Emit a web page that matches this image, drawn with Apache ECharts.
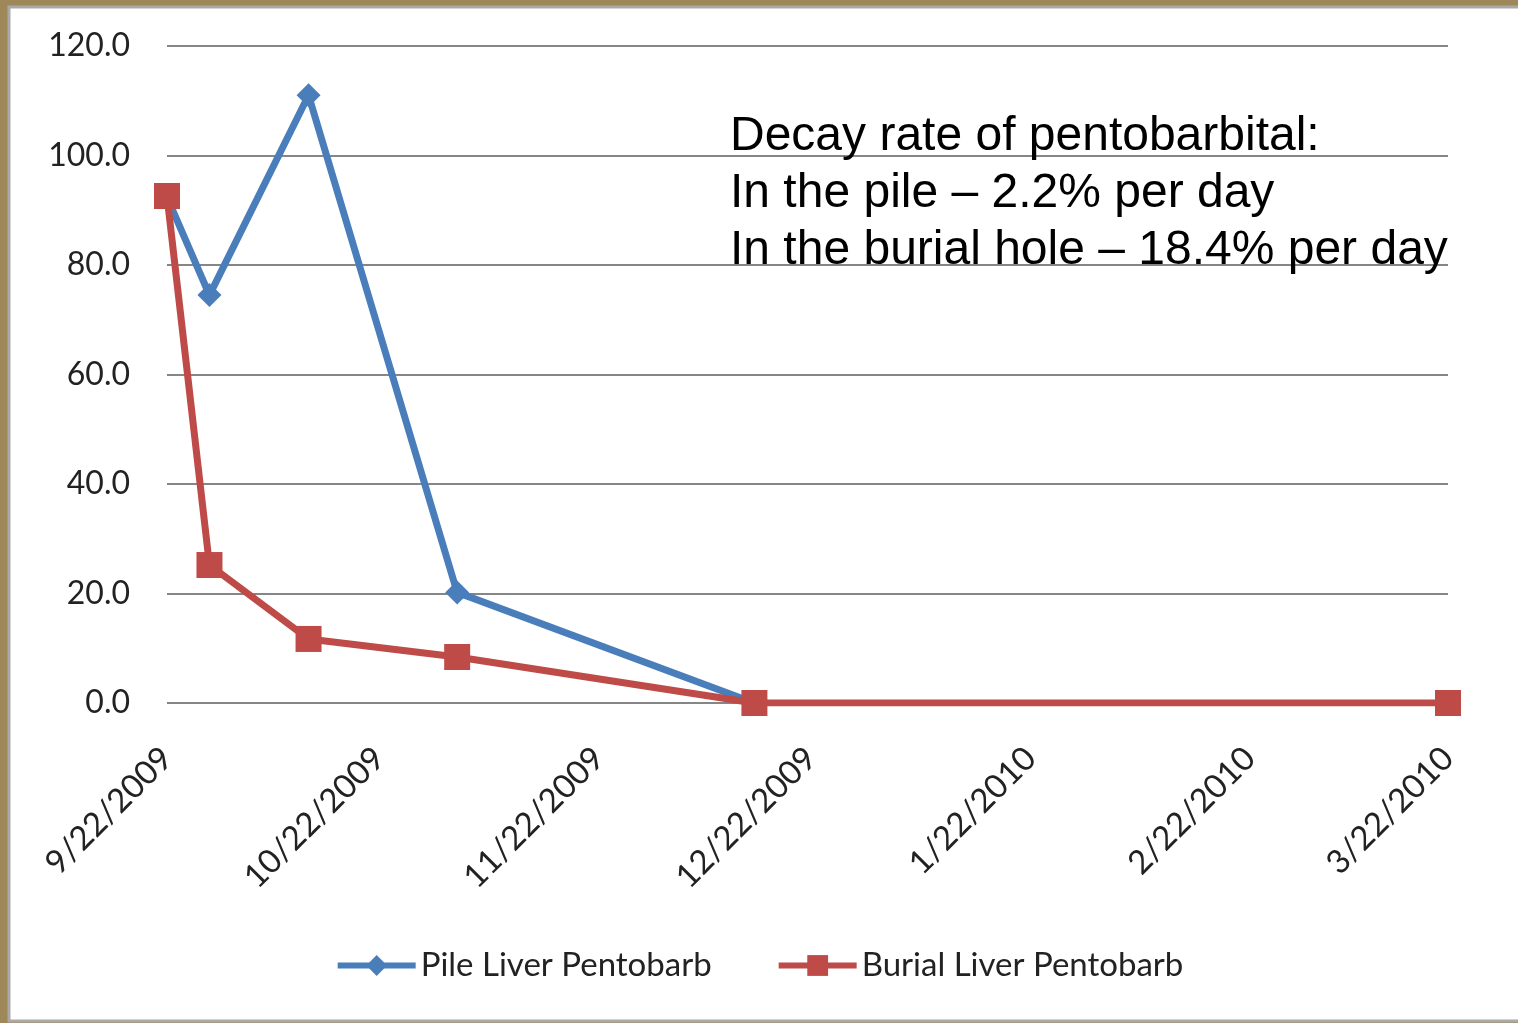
<!DOCTYPE html>
<html>
<head>
<meta charset="utf-8">
<script src="https://cdn.jsdelivr.net/npm/echarts@6/dist/echarts.min.js"></script>
<style>
  html, body { margin: 0; padding: 0; background: #9e8759; }
  #main { width: 1518px; height: 1023px; }
</style>
</head>
<body>
<div id="main"></div>
<script>
// chart data
const pileDates = ['2009-09-22', '2009-09-28', '2009-10-12', '2009-11-02', '2009-12-14']
const pileValues = [92.4, 74.5, 111.0, 20.2, 0]
const burialDates = ['2009-09-22', '2009-09-28', '2009-10-12', '2009-11-02', '2009-12-14', '2010-03-22']
const burialValues = [92.6, 25.2, 11.7, 8.4, 0, 0]
const tickDates = ['2009-09-22', '2009-10-22', '2009-11-22', '2009-12-22', '2010-01-22', '2010-02-22', '2010-03-22']
const noteLines = [
  'Decay rate of pentobarbital:',
  'In the pile \u2013 2.2% per day',
  'In the burial hole \u2013 18.4% per day'
]

function toTime(s) {
  const p = s.split('-').map(Number)
  return new Date(p[0], p[1] - 1, p[2]).getTime()
}
function fmtDate(t) {
  const d = new Date(t)
  return (d.getMonth() + 1) + '/' + d.getDate() + '/' + d.getFullYear()
}

const pileData = pileDates.map((d, i) => [toTime(d), pileValues[i]])
const burialData = burialDates.map((d, i) => [toTime(d), burialValues[i]])
const tickTimes = tickDates.map(toTime)

const chart = echarts.init(document.getElementById('main'))
const labelFont = 'Lato, "Open Sans", sans-serif'

const option = {
  animation: false,
  backgroundColor: 'transparent',
  graphic: [
    {
      type: 'rect',
      z: -10,
      shape: { x: 9, y: 7, width: 1516, height: 1014 },
      style: { fill: '#ffffff', stroke: '#a9a9a9', lineWidth: 3 }
    },
    {
      type: 'text',
      left: 730,
      top: 108,
      z: 10,
      style: {
        text: noteLines.join('\n'),
        font: '48px "Liberation Sans", Arial, sans-serif',
        lineHeight: 57,
        fill: '#000000'
      }
    }
  ],
  grid: { left: 167, right: 70, top: 46, bottom: 320 },
  legend: {
    bottom: 36,
    left: 'center',
    itemWidth: 78,
    itemHeight: 26,
    itemGap: 64,
    lineStyle: { width: 6 },
    textStyle: { fontFamily: labelFont, fontSize: 33, color: '#222' },
    data: ['Pile Liver Pentobarb', 'Burial Liver Pentobarb']
  },
  xAxis: {
    type: 'value',
    min: tickTimes[0],
    max: tickTimes[tickTimes.length - 1],
    axisLine: { show: false },
    axisTick: { show: false },
    splitLine: { show: false },
    axisLabel: {
      customValues: tickTimes,
      rotate: 45,
      margin: 50,
      fontFamily: labelFont,
      fontSize: 33,
      color: '#222',
      formatter: (v) => fmtDate(v)
    }
  },
  yAxis: {
    type: 'value',
    min: 0,
    max: 120,
    interval: 20,
    axisLine: { show: false },
    axisTick: { show: false },
    splitLine: { lineStyle: { color: '#868686', width: 2 } },
    axisLabel: {
      margin: 37,
      fontFamily: labelFont,
      fontSize: 32,
      color: '#222',
      formatter: (v) => v.toFixed(1)
    }
  },
  series: [
    {
      name: 'Pile Liver Pentobarb',
      type: 'line',
      data: pileData,
      symbol: 'diamond',
      symbolSize: 24,
      lineStyle: { width: 7, color: '#4A7EBB' },
      itemStyle: { color: '#4A7EBB' }
    },
    {
      name: 'Burial Liver Pentobarb',
      type: 'line',
      data: burialData,
      symbol: 'rect',
      symbolSize: 26,
      lineStyle: { width: 7, color: '#BE4B48' },
      itemStyle: { color: '#BE4B48' }
    }
  ]
}
option && chart.setOption(option)
</script>
</body>
</html>
